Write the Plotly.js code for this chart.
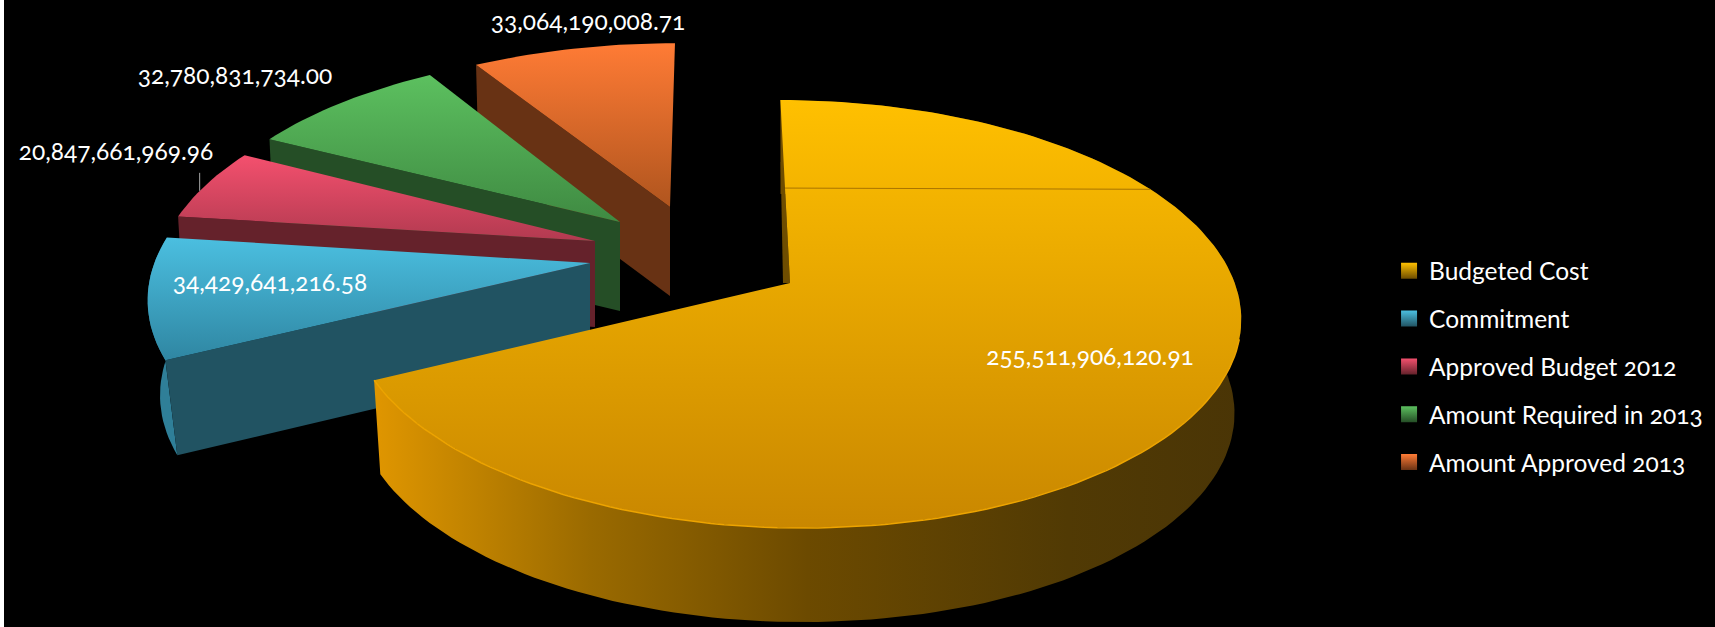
<!DOCTYPE html>
<html>
<head>
<meta charset="utf-8">
<script src="https://cdn.plot.ly/plotly-3.0.1.min.js"></script>
<style>
html,body{margin:0;padding:0;background:#fff;overflow:hidden}
#chart{position:absolute;left:4px;top:0;width:1711px;height:627px;background:#000}
svg text{font-feature-settings:"onum" 1,"lnum" 0}
</style>
</head>
<body>
<div id="chart"></div>
<script>
// ---- chart values ----
const categories = ['Budgeted Cost','Commitment','Approved Budget 2012','Amount Required in 2013','Amount Approved 2013'];
const values = [255511906120.91, 34429641216.58, 20847661969.96, 32780831734.00, 33064190008.71];

// ---- colours ----
const faceTop    = ['#ffc000','#4bbfe0','#f4506e','#5cc05f','#ff7b35'];
const faceBottom = ['#c98700','#2f86a2','#b23a50','#3f8a42','#b0551e'];
const wallColor  = ['#6e4d00','#215362','#65222b','#254e26','#683214'];
const rimColor   = ['#6e4d00','#2f7f98','#65222b','#254e26','#683214'];

// ---- projection of the tilted disc, and how each slice is exploded ----
const A = 447, B = 209.5, K = 0.145;
const apexX = [790,590,595,620,670];
const apexY = [283,263,241,222,207];
const scaleXL = [0.98,0.9746,0.963,0.951,0.951];
const scaleXR = [0.995,1,1,1,1];
const scaleY  = [1,1,0.96,0.925,0.895];
const shear   = [11,-12.7,-21.7,-10.8,-5.7];
const depth   = [94,95,86,89,89];
const taper   = [0.015,0.028,0.012,0.012,0.012];

// ---- label placement relative to each slice's apex ----
const labelDX = [300,-320,-479,-385,-82];
const labelDY = [76,22,-87,-144,-183];

const total = values.reduce((a,b)=>a+b,0);
const rad = d => d*Math.PI/180;

function project(i,deg,r){
  const u = Math.sin(rad(deg))*r, v = -Math.cos(rad(deg))*r;
  const s = 1/(1-K*v);
  const sx = u<0 ? scaleXL[i] : scaleXR[i];
  return [apexX[i] + (A*u*sx + shear[i]*v)*s, apexY[i] + B*v*s*scaleY[i]];
}
function lower(i,p){
  return [p[0] + taper[i]*(apexX[i]-p[0]), p[1] + depth[i]];
}
function arc(i,a0,a1){
  const out=[]; const n=Math.max(2,Math.ceil((a1-a0)/1.5));
  for(let k=0;k<=n;k++) out.push(project(i,a0+(a1-a0)*k/n,1));
  return out;
}
function poly(pts,extra){
  return Object.assign({
    x:pts.map(p=>p[0]), y:pts.map(p=>p[1]),
    type:'scatter', mode:'lines', fill:'toself',
    line:{width:0}, hoverinfo:'skip', showlegend:false
  },extra);
}

// slice angle ranges from the values
const start=[], end=[];
let acc=0;
values.forEach((v,i)=>{ start[i]=acc/total*360; acc+=v; end[i]=acc/total*360; });

const traces=[];
// draw back to front
[4,3,2,1,0].forEach(i=>{
  const a = arc(i,start[i],end[i]);
  const apex = project(i,0,0);
  // outer rim (only the two slices facing the viewer show it)
  const rim = a.concat(a.map(p=>lower(i,p)).reverse());
  if(i===0){
    traces.push(poly(rim,{fillgradient:{type:'horizontal',
      colorscale:[[0,'#e09600'],[0.1,'#c48500'],[0.25,'#9a6a00'],[0.5,'#6c4a00'],[0.8,'#513a04'],[1,'#4a3506']]}}));
  } else if(i===1){
    traces.push(poly(rim,{fillcolor:rimColor[i]}));
  }
  // cut side facing the viewer
  if(i!==0){
    const c = a[0];
    traces.push(poly([apex,c,lower(i,c),lower(i,apex)],{fillcolor:wallColor[i]}));
  } else {
    // sliver of the inner wall of the large slice
    const up = project(i,0,0.63);
    traces.push(poly([up,apex,[apex[0]-7,apex[1]],[up[0]-3,up[1]]],{fillcolor:wallColor[i]}));
  }
  // top face (a vertical fillgradient runs bottom to top)
  traces.push(poly([apex].concat(a),{fillgradient:{type:'vertical',
    colorscale:[[0,faceBottom[i]],[1,faceTop[i]]]}}));
  if(i===0){
    // bright edge along the front of the rim, and the hairline on the face
    const front = arc(i,105,end[i]);
    traces.push({x:front.map(p=>p[0]),y:front.map(p=>p[1]),type:'scatter',mode:'lines',
      line:{color:'#eda400',width:1.5},hoverinfo:'skip',showlegend:false});
    const inner = project(i,0,0.485);
    const outerPt = a.find(p=>p[1]>=inner[1]);
    traces.push({x:[inner[0],outerPt[0]],y:[inner[1],outerPt[1]],type:'scatter',mode:'lines',
      line:{color:'#a87400',width:1},hoverinfo:'skip',showlegend:false});
  }
});

// leader line of the small slice's label
const leaderEnd = project(2,285,1);
traces.push({x:[leaderEnd[0],leaderEnd[0]],y:[leaderEnd[1]-18,leaderEnd[1]],type:'scatter',mode:'lines',
  line:{color:'#a6a6a6',width:1},hoverinfo:'skip',showlegend:false});

// value labels
const fmt = v => v.toLocaleString('en-US',{minimumFractionDigits:2,maximumFractionDigits:2});
traces.push({
  x:apexX.map((x,i)=>x+labelDX[i]), y:apexY.map((y,i)=>y+labelDY[i]),
  text:values.map(fmt), type:'scatter', mode:'text', textposition:'middle center',
  textfont:{family:'Lato, sans-serif',size:24.5,color:'#ffffff'},
  hoverinfo:'skip', showlegend:false
});

// legend entries
categories.forEach((c,i)=>{
  traces.push({x:[null],y:[null],type:'scatter',mode:'markers',name:c,legendgroup:c,
    marker:{symbol:'square',size:16,color:faceTop[i],gradient:{type:'vertical',color:wallColor[i]}},
    hoverinfo:'skip'});
});

const layout={
  width:1711,height:627,
  margin:{l:0,r:0,t:0,b:0},
  paper_bgcolor:'#000000',plot_bgcolor:'#000000',
  xaxis:{range:[4,1715],visible:false,fixedrange:true},
  yaxis:{range:[627,0],visible:false,fixedrange:true},
  hovermode:false,
  showlegend:true,
  legend:{x:0.8095,y:0.604,xanchor:'left',yanchor:'top',orientation:'v',traceorder:'grouped',
    font:{family:'Lato, sans-serif',size:24.5,color:'#ffffff'},
    bgcolor:'rgba(0,0,0,0)',tracegroupgap:13,itemclick:false,itemdoubleclick:false}
};
Plotly.newPlot('chart',traces,layout,{displayModeBar:false,responsive:false});
</script>
</body>
</html>
